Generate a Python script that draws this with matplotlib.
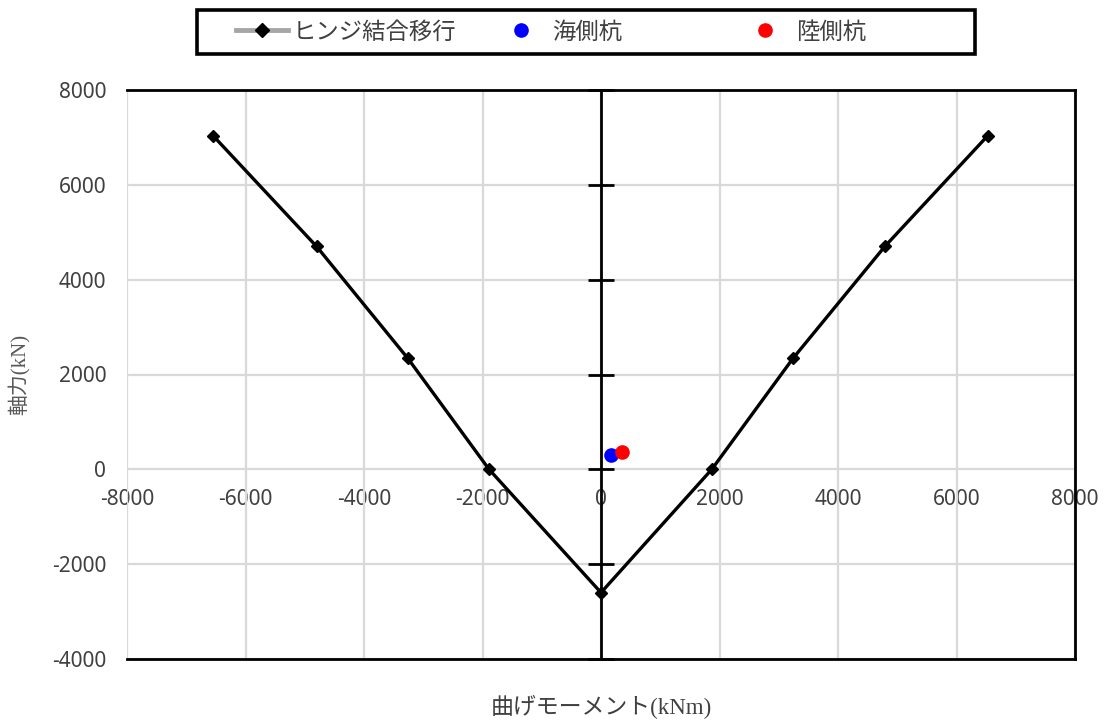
import matplotlib
matplotlib.use("Agg")
import matplotlib.pyplot as plt
from matplotlib.lines import Line2D
from matplotlib.patches import Rectangle

# ---- data ----
moment = [-6550, -4800, -3260, -1890, 0, 1870, 3240, 4790, 6530]
axial = [7040, 4700, 2340, 0, -2600, 0, 2340, 4700, 7040]
sea_m = [165]
sea_n = [295]
land_m = [355]
land_n = [365]
xticks = [-8000, -6000, -4000, -2000, 0, 2000, 4000, 6000, 8000]
yticks = [-4000, -2000, 0, 2000, 4000, 6000, 8000]
series_names = ["ヒンジ結合移行", "海側杭", "陸側杭"]
xlabel = "曲げモーメント(kNm)"
ylabel = "軸力(kN)"

plt.rcParams['font.family'] = ['Noto Sans', 'Noto Sans CJK JP', 'DejaVu Sans']
plt.rcParams['axes.unicode_minus'] = False

W, H = 1105, 720
fig = plt.figure(figsize=(W / 100, H / 100), dpi=100)
ax = fig.add_axes([127 / W, 1 - 659 / H, (1075 - 127) / W, (659 - 90) / H])

xmin, xmax = xticks[0], xticks[-1]
ymin, ymax = yticks[0], yticks[-1]
ax.set_xlim(xmin, xmax)
ax.set_ylim(ymin, ymax)
ax.set_xticks(xticks)
ax.set_yticks(yticks)
ax.grid(True, color='#d9d9d9', lw=1.6, zorder=0)
ax.set_axisbelow(True)
ax.tick_params(axis='x', length=0, labelbottom=False)

for s in ['top', 'bottom', 'right']:
    ax.spines[s].set_color('black')
    ax.spines[s].set_linewidth(2)

# vertical axis line at x = 0 with crossing ticks (main left spine moved to x = 0)
ax.spines['left'].set_position(('data', 0))
ax.spines['left'].set_color('black')
ax.spines['left'].set_linewidth(2)
ax.tick_params(axis='y', direction='inout', length=19, width=2, color='black', labelleft=False)

# y tick labels at the left edge
secy = ax.secondary_yaxis('left')
secy.set_yticks(yticks)
for s in secy.spines.values():
    s.set_visible(False)
secy.tick_params(length=0, pad=15, labelsize=15, labelcolor='#404040')

# x tick labels sit just below y = 0
y0_frac = (0 - ymin) / (ymax - ymin)
secx = ax.secondary_xaxis(y0_frac)
secx.set_xticks(xticks)
for s in secx.spines.values():
    s.set_visible(False)
secx.tick_params(length=0, pad=14, labelsize=15, labelcolor='#404040')

# data
ax.plot(moment, axial, color='black', lw=2.4, marker='D', ms=6.5, mfc='black', mec='black',
        zorder=3, clip_on=False)
ax.plot(sea_m, sea_n, ls='none', marker='o', ms=9.5, color='#0000ff', zorder=4)
ax.plot(land_m, land_n, ls='none', marker='o', ms=9.5, color='#ff0000', zorder=4)

lab_font = ['Liberation Serif', 'Noto Sans CJK JP']
ax.set_xlabel(xlabel, family=lab_font, fontsize=16.5, color='#404040')
ax.xaxis.set_label_coords(0.5, -(707 - 659) / (659 - 90))
ax.xaxis.label.set_va('center')
ax.set_ylabel(ylabel, family=lab_font, fontsize=15, color='#595959')
ax.yaxis.set_label_coords(-(127 - 20) / (1075 - 127), 0.5)
ax.yaxis.label.set_va('center')

# legend box
fig.add_artist(Rectangle((197 / W, 1 - 54 / H), 778 / W, 44 / H, transform=fig.transFigure,
                         fill=False, ec='black', lw=2.6))
handles = [
    Line2D([], [], color='#a6a6a6', lw=3.5, marker='D', ms=7, mfc='black', mec='black'),
    Line2D([], [], ls='none', marker='o', ms=9.5, color='#0000ff'),
    Line2D([], [], ls='none', marker='o', ms=9.5, color='#ff0000'),
]
starts = [236, 495, 739]
fs = 16.8
for h, name, xs in zip(handles, series_names, starts):
    leg = fig.legend([h], [name], loc='center left', bbox_to_anchor=(xs / W, 1 - 32 / H),
                     bbox_transform=fig.transFigure, frameon=False, borderpad=0,
                     borderaxespad=0, handlelength=52 / (fs * 100 / 72), handletextpad=0.2,
                     prop={'family': ['Noto Sans CJK JP'], 'size': fs}, labelcolor='#404040')

fig.savefig('out.png', dpi=100)
